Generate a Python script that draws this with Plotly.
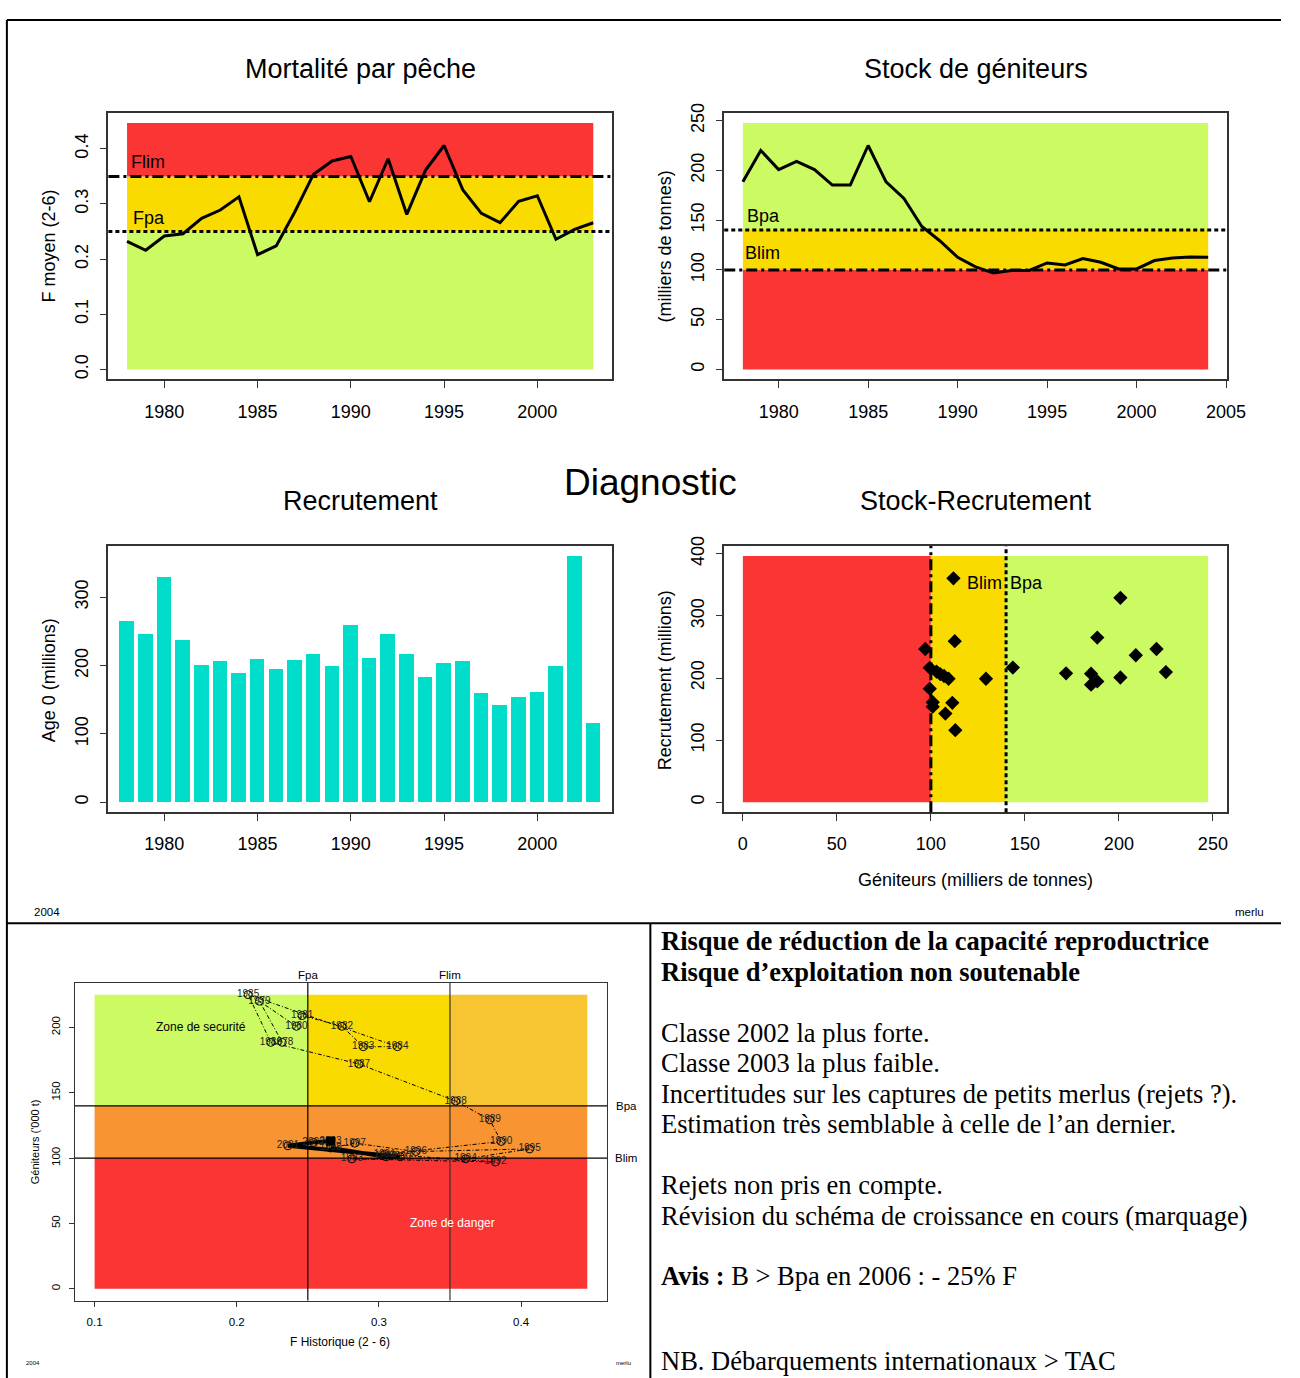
import plotly.graph_objects as go

# ---------------- data ----------------
years_F = list(range(1978, 2004))
F_mean = [0.232, 0.216, 0.242, 0.246, 0.274, 0.289, 0.313, 0.208, 0.224, 0.286,
          0.354, 0.378, 0.386, 0.304, 0.382, 0.281, 0.361, 0.406, 0.326, 0.283,
          0.266, 0.305, 0.315, 0.236, 0.254, 0.266]
years_SSB = list(range(1978, 2005))
SSB = [188.5, 220.0, 200.8, 209.0, 200.8, 185.2, 185.2, 225.0, 188.5, 171.9,
       143.6, 129.3, 112.7, 103.0, 97.0, 99.4, 99.4, 107.0, 105.0, 111.4,
       107.7, 101.0, 101.0, 109.4, 112.0, 113.0, 112.7]
years_R = list(range(1978, 2004))
recruits = [265.0, 246.7, 329.0, 236.6, 200.8, 207.0, 189.2, 209.5, 194.5, 207.5,
            216.7, 198.8, 259.3, 210.4, 246.7, 216.3, 182.9, 203.2, 206.1, 160.1,
            142.7, 153.8, 161.1, 198.8, 360.4, 116.1]
Flim, Fpa = 0.35, 0.25
Blim, Bpa = 100, 140
F_ticks = [0.0, 0.1, 0.2, 0.3, 0.4]
F_ticktext = ["0.0", "0.1", "0.2", "0.3", "0.4"]
year_ticks = [1980, 1985, 1990, 1995, 2000]
year_ticks2 = [1980, 1985, 1990, 1995, 2000, 2005]
ssb_ticks = [0, 50, 100, 150, 200, 250]
rec_ticks = [0, 100, 200, 300]
sr_xticks = [0, 50, 100, 150, 200, 250]
sr_yticks = [0, 100, 200, 300, 400]
ph_xticks = [0.1, 0.2, 0.3, 0.4]
ph_yticks = [0, 50, 100, 150, 200]
n_thick = 6  # last years drawn with a thick line in the phase plot

text_lines = [
    ("<b>Risque de réduction de la capacité reproductrice</b>", 938),
    ("<b>Risque d’exploitation non soutenable</b>", 969),
    ("Classe 2002 la plus forte.", 1030),
    ("Classe 2003 la plus faible.", 1061),
    ("Incertitudes sur les captures de petits merlus (rejets ?).", 1092),
    ("Estimation très semblable à celle de l’an dernier.", 1122),
    ("Rejets non pris en compte.", 1184),
    ("Révision du schéma de croissance en cours (marquage)", 1215),
    ("<b>Avis :</b> B > Bpa en 2006 : - 25% F", 1275),
    ("NB. Débarquements internationaux > TAC", 1361),
]

# ---------------- style ----------------
W, H = 1300, 1378
FONT = "Liberation Sans, Arial, sans-serif"
SERIF = "Liberation Serif, Times New Roman, serif"
RED = "#FB3434"
YEL = "#F9DB00"
GRN = "#CCFA62"
ORA = "#F8C532"
ORA2 = "#F89432"
TURQ = "#00DDCA"
TICK = 18
TITLE = 27


def px(x):
    return x / W


def py(y):
    return 1 - y / H


def ext(lo, hi, f=0.04):
    d = (hi - lo) * f
    return [lo - d, hi + d]


fig = go.Figure()
shapes = []
annotations = []


def rect(xr, yr, x0, x1, y0, y1, color):
    shapes.append(dict(type="rect", xref=xr, yref=yr, x0=x0, x1=x1, y0=y0, y1=y1,
                       fillcolor=color, line=dict(width=0), layer="below"))


def hline(xr, yr, y, dash, width=3, color="black"):
    shapes.append(dict(type="line", xref=xr + " domain", yref=yr, x0=0, x1=1, y0=y, y1=y,
                       line=dict(color=color, width=width, dash=dash)))


def vline(xr, yr, x, dash, width=3, color="black"):
    shapes.append(dict(type="line", xref=xr, yref=yr + " domain", x0=x, x1=x, y0=0, y1=1,
                       line=dict(color=color, width=width, dash=dash)))


def ann(text, x, y, size, xanchor="center", yanchor="middle", angle=0, font=FONT,
        color="black", xref="paper", yref="paper"):
    annotations.append(dict(text=text, x=x, y=y, xref=xref, yref=yref, showarrow=False,
                            xanchor=xanchor, yanchor=yanchor, textangle=angle,
                            font=dict(size=size, family=font, color=color)))


DASHDOT = "11px,4px,3px,4px"
DOTTED = "4px,3px"

# ---------------- panel 1 : F ----------------
ftop = 1.1 * max(F_mean)
rect("x", "y", years_F[0], years_F[-1], 0, Fpa, GRN)
rect("x", "y", years_F[0], years_F[-1], Fpa, Flim, YEL)
rect("x", "y", years_F[0], years_F[-1], Flim, ftop, RED)
hline("x", "y", Flim, DASHDOT)
hline("x", "y", Fpa, DOTTED)
fig.add_trace(go.Scatter(x=years_F, y=F_mean, mode="lines", line=dict(color="black", width=3),
                         xaxis="x", yaxis="y", showlegend=False))
ann("Flim", years_F[0] + 0.1, Flim + 0.005, TICK, xanchor="left", yanchor="bottom", xref="x", yref="y")
ann("Fpa", years_F[0] + 0.2, Fpa + 0.003, TICK, xanchor="left", yanchor="bottom", xref="x", yref="y")

# ---------------- panel 2 : SSB ----------------
stop = 1.1 * max(SSB)
rect("x2", "y2", years_SSB[0], years_SSB[-1], 0, Blim, RED)
rect("x2", "y2", years_SSB[0], years_SSB[-1], Blim, Bpa, YEL)
rect("x2", "y2", years_SSB[0], years_SSB[-1], Bpa, stop, GRN)
hline("x2", "y2", Bpa, DOTTED)
hline("x2", "y2", Blim, DASHDOT)
fig.add_trace(go.Scatter(x=years_SSB, y=SSB, mode="lines", line=dict(color="black", width=3),
                         xaxis="x2", yaxis="y2", showlegend=False))
ann("Bpa", years_SSB[0] + 0.1, Bpa + 2, TICK, xanchor="left", yanchor="bottom", xref="x2", yref="y2")
ann("Blim", years_SSB[0] + 0.0, Blim + 5, TICK, xanchor="left", yanchor="bottom", xref="x2", yref="y2")

# ---------------- panel 3 : recruitment ----------------
fig.add_trace(go.Bar(x=years_R, y=recruits, width=0.78, marker=dict(color=TURQ, line=dict(width=0)),
                     xaxis="x3", yaxis="y3", showlegend=False))

# ---------------- panel 4 : stock-recruitment ----------------
n = len(recruits)
sx = SSB[:n]
sxmax = 1.1 * max(sx)
rymax = 1.1 * max(recruits)
rect("x4", "y4", 0, Blim, 0, rymax, RED)
rect("x4", "y4", Blim, Bpa, 0, rymax, YEL)
rect("x4", "y4", Bpa, sxmax, 0, rymax, GRN)
vline("x4", "y4", Blim, DASHDOT)
vline("x4", "y4", Bpa, DOTTED)
fig.add_trace(go.Scatter(x=sx, y=recruits, mode="markers",
                         marker=dict(symbol="diamond", size=11, color="black"),
                         xaxis="x4", yaxis="y4", showlegend=False))
ann("Blim", Bpa - 1, 353, TICK, xanchor="right", xref="x4", yref="y4")
ann("Bpa", Bpa + 1, 353, TICK, xanchor="left", xref="x4", yref="y4")

# ---------------- panel 5 : phase plot ----------------
pf = F_mean
ps = SSB[:len(pf)]
pfmax = 1.1 * max(pf)
psmax = max(ps)
pfmin = 0.1
rect("x5", "y5", pfmin, Fpa, Bpa, psmax, GRN)
rect("x5", "y5", Fpa, Flim, Bpa, psmax, YEL)
rect("x5", "y5", Flim, pfmax, Bpa, psmax, ORA)
rect("x5", "y5", pfmin, pfmax, Blim, Bpa, ORA2)
rect("x5", "y5", pfmin, pfmax, 0, Blim, RED)
vline("x5", "y5", Fpa, "solid", width=1.2)
vline("x5", "y5", Flim, "solid", width=1.2, color="#333")
hline("x5", "y5", Bpa, "solid", width=1.2)
hline("x5", "y5", Blim, "solid", width=1.2)
k = len(pf) - n_thick
fig.add_trace(go.Scatter(x=pf[:k + 1], y=ps[:k + 1], mode="lines",
                         line=dict(color="black", width=1, dash="4px,2px,1px,2px"),
                         xaxis="x5", yaxis="y5", showlegend=False))
fig.add_trace(go.Scatter(x=pf[k:], y=ps[k:], mode="lines",
                         line=dict(color="black", width=4),
                         xaxis="x5", yaxis="y5", showlegend=False))
fig.add_trace(go.Scatter(x=pf, y=ps, mode="markers+text", text=[str(yv) for yv in years_F],
                         textposition="middle center",
                         textfont=dict(size=10, family=FONT, color="#222"),
                         marker=dict(symbol="circle-open", size=8, color="black", line=dict(width=1)),
                         xaxis="x5", yaxis="y5", showlegend=False))
fig.add_trace(go.Scatter(x=[pf[-1]], y=[ps[-1]], mode="markers",
                         marker=dict(symbol="square", size=9, color="black"),
                         xaxis="x5", yaxis="y5", showlegend=False))
ann("Zone de securité", 0.175, 200, 12, xref="x5", yref="y5")
ann("Zone de danger", 0.352, 50, 12, color="white", xref="x5", yref="y5")
ann("Fpa", Fpa, py(972), 11.5, xref="x5", yref="paper")
ann("Flim", Flim, py(972), 11.5, xref="x5", yref="paper")
ann("Bpa", px(623), Bpa, 11.5, xanchor="left", xref="paper", yref="y5")
ann("Blim", px(622), Blim, 11.5, xanchor="left", xref="paper", yref="y5")

# ---------------- titles / labels ----------------
ann("Mortalité par pêche", px(366), py(59), TITLE)
ann("Stock de géniteurs", px(990), py(59), TITLE)
ann("Recrutement", px(366), py(495), TITLE)
ann("Stock-Recrutement", px(990), py(495), TITLE)
ann("Diagnostic", px(660), py(476), 37)
ann("F moyen (2-6)", px(50), py(238), TICK, angle=-90)
ann("(milliers de tonnes)", px(675), py(238), TICK, angle=-90)
ann("Age 0 (millions)", px(50), py(675), TICK, angle=-90)
ann("Recrutement (millions)", px(675), py(675), TICK, angle=-90)
ann("Géniteurs (milliers de tonnes)", px(990), py(876), TICK)
ann("2004", px(48), py(909), 11.5)
ann("merlu", px(1268), py(909), 11.5)
ann("F Historique (2 - 6)", px(345), py(1342), 12)
ann("Géniteurs ('000 t)", px(35), py(1140), 11, angle=-90)
ann("2004", px(33), py(1363), 6)
ann("merlu", px(633), py(1363), 6)
for txt, yy in text_lines:
    ann(txt, px(669), py(yy), 26.5, xanchor="left", font=SERIF)

# ---------------- frame lines ----------------
for (x0, y0, x1, y1) in [(7, 10, 7, H), (7, 10, W, 10), (7, 920, W, 920), (660, 920, 660, H)]:
    shapes.append(dict(type="line", xref="paper", yref="paper", x0=px(x0), x1=px(x1),
                       y0=py(y0), y1=py(y1), line=dict(color="black", width=2)))


# ---------------- axes ----------------
def axis(domain, rng, tickvals, ticktext=None, angle=0, size=TICK, standoff=3, lw=1.5, tl=7, anchor=None):
    d = dict(domain=domain, range=rng, tickvals=tickvals, showgrid=False, zeroline=False,
             showline=True, mirror=True, linecolor="#333", linewidth=lw, ticks="outside",
             ticklen=tl, tickcolor="#333", tickwidth=1.2, tickangle=angle,
             ticklabelstandoff=standoff,
             tickfont=dict(size=size, color="black", family=FONT))
    if ticktext is not None:
        d["ticktext"] = ticktext
    if anchor:
        d["anchor"] = anchor
    return d


c1 = [px(110), px(621)]
c2 = [px(735), px(1245)]
r1 = [py(372), py(104)]
r2 = [py(808), py(540)]

fig.update_layout(
    width=W, height=H, margin=dict(l=0, r=0, t=0, b=0),
    paper_bgcolor="white", plot_bgcolor="white", showlegend=False,
    bargap=0,
    xaxis=axis(c1, ext(years_F[0], years_F[-1]), year_ticks, standoff=8, anchor="y"),
    yaxis=axis(r1, ext(0, ftop), F_ticks, F_ticktext, angle=-90, standoff=4, anchor="x"),
    xaxis2=axis(c2, ext(years_SSB[0], years_SSB[-1]), year_ticks2, standoff=8, anchor="y2"),
    yaxis2=axis(r1, ext(0, stop), ssb_ticks, angle=-90, standoff=4, anchor="x2"),
    xaxis3=axis(c1, ext(years_R[0], years_R[-1]), year_ticks, standoff=8, anchor="y3"),
    yaxis3=axis(r2, ext(0, max(recruits)), rec_ticks, angle=-90, standoff=4, anchor="x3"),
    xaxis4=axis(c2, ext(0, sxmax), sr_xticks, standoff=8, anchor="y4"),
    yaxis4=axis(r2, ext(0, rymax), sr_yticks, angle=-90, standoff=4, anchor="x4"),
    xaxis5=axis([px(76), px(616)], ext(pfmin, pfmax), ph_xticks, size=11.5, standoff=6, lw=1.2, tl=5, anchor="y5"),
    yaxis5=axis([py(1300), py(980)], ext(0, psmax), ph_yticks, angle=-90, size=11.5, standoff=4, lw=1.2, tl=5, anchor="x5"),
    shapes=shapes,
    annotations=annotations,
)

POST = ("document.documentElement.style.margin='0';document.documentElement.style.overflow='hidden';"
        "document.body.style.margin='0';document.body.style.padding='0';document.body.style.overflow='hidden';"
        "var d=document.getElementsByClassName('plotly-graph-div')[0];"
        "d.style.position='fixed';d.style.left='0px';d.style.top='0px';")

fig.write_html("out.html", config={"displayModeBar": False}, post_script=POST)
